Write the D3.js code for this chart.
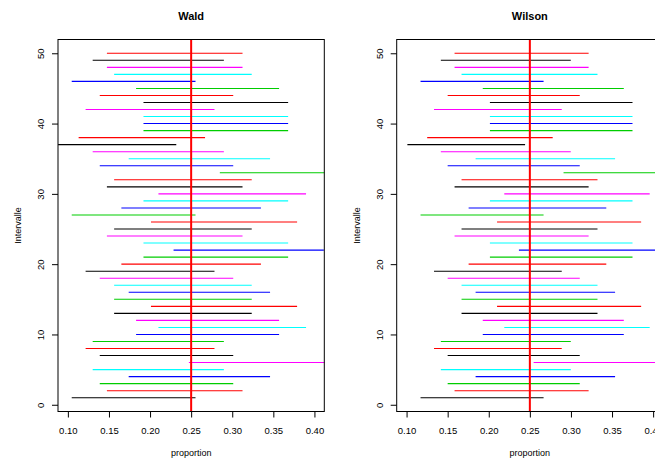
<!DOCTYPE html>
<html>
<head>
<meta charset="UTF-8" />
<title>Wald / Wilson</title>
<style>
  body { margin: 0; background: #fff; }
  svg { display: block; font-family: "Liberation Sans", Arial, sans-serif; }
  .tick text { font-size: 9.5px; fill: #000; }
  .tick line, .domain { stroke: #000; }
  .title { font-size: 11px; font-weight: bold; }
  .lab { font-size: 9px; }
</style>
</head>
<body>
<div id="chart"></div>
<script src="https://d3js.org/d3.v7.min.js"></script>
<script>
  // interval number 1..50 (bottom to top)
  const ids = d3.range(1, 51);

  const waldLow = [0.1047, 0.1475, 0.1388, 0.1740, 0.1302, 0.2472, 0.1388, 0.1216, 0.1302, 0.1830,
                   0.2102, 0.1830, 0.1563, 0.2011, 0.1563, 0.1740, 0.1563, 0.1388, 0.1216, 0.1651,
                   0.1920, 0.2286, 0.1920, 0.1475, 0.1563, 0.2011, 0.1047, 0.1651, 0.1920, 0.2102,
                   0.1475, 0.1563, 0.2849, 0.1388, 0.1740, 0.1302, 0.0881, 0.1131, 0.1920, 0.1920,
                   0.1920, 0.1216, 0.1920, 0.1388, 0.1830, 0.1047, 0.1563, 0.1475, 0.1302, 0.1475];
  const waldHigh = [0.2553, 0.3125, 0.3012, 0.3460, 0.2898, 0.4328, 0.3012, 0.2784, 0.2898, 0.3570,
                    0.3898, 0.3570, 0.3237, 0.3789, 0.3237, 0.3460, 0.3237, 0.3012, 0.2784, 0.3349,
                    0.3680, 0.4114, 0.3680, 0.3125, 0.3237, 0.3789, 0.2553, 0.3349, 0.3680, 0.3898,
                    0.3125, 0.3237, 0.4751, 0.3012, 0.3460, 0.2898, 0.2319, 0.2669, 0.3680, 0.3680,
                    0.3680, 0.2784, 0.3680, 0.3012, 0.3570, 0.2553, 0.3237, 0.3125, 0.2898, 0.3125];

  const wilsonLow = [0.1170, 0.1584, 0.1500, 0.1840, 0.1417, 0.2546, 0.1500, 0.1334, 0.1417, 0.1927,
                     0.2189, 0.1927, 0.1669, 0.2101, 0.1669, 0.1840, 0.1669, 0.1500, 0.1334, 0.1755,
                     0.2014, 0.2367, 0.2014, 0.1584, 0.1669, 0.2101, 0.1170, 0.1755, 0.2014, 0.2189,
                     0.1584, 0.1669, 0.2910, 0.1500, 0.1840, 0.1417, 0.1010, 0.1251, 0.2014, 0.2014,
                     0.2014, 0.1334, 0.2014, 0.1500, 0.1927, 0.1170, 0.1669, 0.1584, 0.1417, 0.1584];
  const wilsonHigh = [0.2667, 0.3215, 0.3107, 0.3537, 0.2998, 0.4372, 0.3107, 0.2888, 0.2998, 0.3643,
                      0.3958, 0.3643, 0.3323, 0.3854, 0.3323, 0.3537, 0.3323, 0.3107, 0.2888, 0.3430,
                      0.3749, 0.4166, 0.3749, 0.3215, 0.3323, 0.3854, 0.2667, 0.3430, 0.3749, 0.3958,
                      0.3215, 0.3323, 0.4779, 0.3107, 0.3537, 0.2998, 0.2442, 0.2778, 0.3749, 0.3749,
                      0.3749, 0.2888, 0.3749, 0.3107, 0.3643, 0.2667, 0.3323, 0.3215, 0.2998, 0.3215];

  const trueP = 0.25;
  const xTicks = [0.10, 0.15, 0.20, 0.25, 0.30, 0.35, 0.40];
  const yTicks = [0, 10, 20, 30, 40, 50];
  const palette = ['#000000', '#FF0000', '#00CD00', '#0000FF', '#00FFFF', '#FF00FF'];

  const W = 655, H = 460;
  const svg = d3.select('#chart').append('svg')
    .attr('width', W)
    .attr('height', H);

  const plotTop = 39.5, plotBottom = 411.5, boxW = 266.3;

  const y = d3.scaleLinear().domain([-0.96, 51.96]).range([plotBottom, plotTop]);

  function panel(left, title, low, high, idx) {
    const x = d3.scaleLinear().domain([0.088, 0.412]).range([left, left + boxW]);
    const g = svg.append('g');

    g.append('clipPath').attr('id', 'clip' + idx)
      .append('rect')
      .attr('x', left).attr('y', plotTop)
      .attr('width', boxW).attr('height', plotBottom - plotTop);

    const plot = g.append('g').attr('clip-path', `url(#clip${idx})`);

    plot.selectAll('line.ci')
      .data(ids)
      .enter().append('line')
      .attr('class', 'ci')
      .attr('x1', (d, i) => x(low[i]))
      .attr('x2', (d, i) => x(high[i]))
      .attr('y1', d => y(d))
      .attr('y2', d => y(d))
      .attr('stroke', (d, i) => palette[i % 6])
      .attr('stroke-width', 1.1);

    plot.append('line')
      .attr('x1', x(trueP)).attr('x2', x(trueP))
      .attr('y1', plotTop).attr('y2', plotBottom)
      .attr('stroke', '#FF0000')
      .attr('stroke-width', 2);

    // box
    g.append('rect')
      .attr('x', left).attr('y', plotTop)
      .attr('width', boxW).attr('height', plotBottom - plotTop)
      .attr('fill', 'none')
      .attr('stroke', '#000')
      .attr('stroke-width', 1);

    // x axis
    const xa = g.append('g')
      .attr('transform', `translate(0,${plotBottom})`)
      .call(d3.axisBottom(x).tickValues(xTicks).tickFormat(d3.format('.2f')).tickSize(6).tickSizeOuter(0));
    xa.select('.domain').remove();
    xa.append('line')
      .attr('x1', x(xTicks[0])).attr('x2', x(xTicks[xTicks.length - 1]))
      .attr('stroke', '#000');
    xa.selectAll('text').attr('y', 22).attr('dy', null).attr('font-family', null);

    // y axis
    const ya = g.append('g')
      .attr('transform', `translate(${left},0)`)
      .call(d3.axisLeft(y).tickValues(yTicks).tickSize(6).tickSizeOuter(0));
    ya.select('.domain').remove();
    ya.selectAll('text')
      .attr('x', 0).attr('y', 0).attr('dy', null)
      .attr('text-anchor', 'middle')
      .attr('font-family', null)
      .attr('transform', 'translate(-13.8,0) rotate(-90)');

    g.append('text')
      .attr('class', 'title')
      .attr('x', left + boxW / 2)
      .attr('y', 20)
      .attr('text-anchor', 'middle')
      .text(title);

    g.append('text')
      .attr('class', 'lab')
      .attr('x', left + boxW / 2)
      .attr('y', 456)
      .attr('text-anchor', 'middle')
      .text('proportion');

    g.append('text')
      .attr('class', 'lab')
      .attr('text-anchor', 'middle')
      .attr('transform', `translate(${left - 37},${(plotTop + plotBottom) / 2}) rotate(-90)`)
      .text('Intervalle');
  }

  panel(58, 'Wald', waldLow, waldHigh, 0);
  panel(396.7, 'Wilson', wilsonLow, wilsonHigh, 1);
</script>
</body>
</html>
